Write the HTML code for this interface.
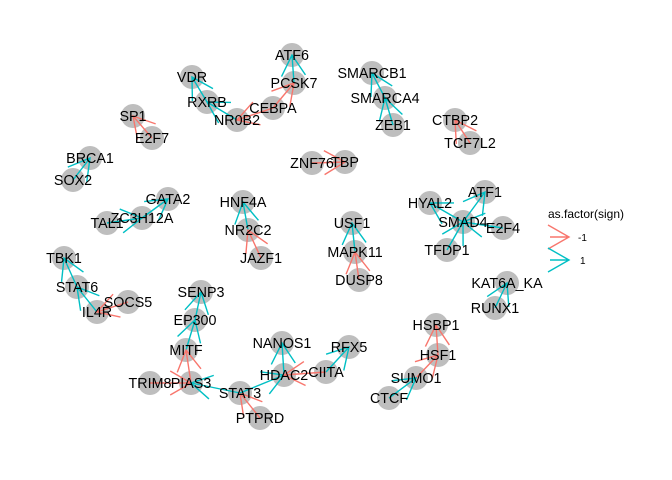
<!DOCTYPE html>
<html><head><meta charset="utf-8"><style>
html,body{margin:0;padding:0;background:#fff}
svg{display:block}
text{font-family:"Liberation Sans",sans-serif}
</style></head><body>
<svg id="chart" width="672" height="480" viewBox="0 0 672 480" xmlns="http://www.w3.org/2000/svg">
<rect width="672" height="480" fill="#fff"/>
<g id="edges"></g>
<g id="nodes"></g>
<g id="labels"></g>
<g>
<text x="548" y="218" font-size="12" fill="#000">as.factor(sign)</text>
<g stroke="#F8766D" stroke-width="1.4" fill="none">
<path d="M548,225 L569,237 L548,249 M550,237 L569,237"/></g>
<text x="578" y="241" font-size="10" fill="#000">-1</text>
<g stroke="#00BFC4" stroke-width="1.4" fill="none">
<path d="M548,248 L569,260 L548,272 M550,260 L569,260"/></g>
<text x="580" y="264" font-size="10" fill="#000">1</text>
</g>
</svg>
<script>
const nodeNames=["ATF6","PCSK7","VDR","RXRB","NR0B2","CEBPA","SP1","E2F7","BRCA1","SOX2","GATA2","ZC3H12A","TAL1","HNF4A","NR2C2","JAZF1","ZNF76","TBP","SMARCB1","SMARCA4","ZEB1","CTBP2","TCF7L2","ATF1","HYAL2","SMAD4","E2F4","TFDP1","USF1","MAPK11","DUSP8","KAT6A_KA","RUNX1","TBK1","STAT6","IL4R","SOCS5","SENP3","EP300","MITF","TRIM8","PIAS3","STAT3","PTPRD","NANOS1","HDAC2","CIITA","RFX5","HSBP1","HSF1","SUMO1","CTCF"];
const nodeX=[292,294,192,207,237,273,133,152,90,73,168,142,107,243,248,261,312,345,372,385,393,455,470,485,430,463,503,447,352,355,359,507,495,64,77,97,128,201,195,186,150,191,240,260,282,284,326,349,436,438,416,389];
const nodeY=[55,83,77,102,120,108,116,138,158,180,199,218,223,202,230,258,163,162,73,98,125,120,143,192,203,222,228,250,223,252,280,283,308,258,287,312,302,292,320,350,383,383,393,418,343,375,372,347,325,355,378,398];
const edgeFrom=["PCSK7","CEBPA","RXRB","NR0B2","CEBPA","E2F7","SOX2","ZC3H12A","TAL1","NR2C2","JAZF1","ZNF76","SMARCA4","ZEB1","TCF7L2","SMAD4","SMAD4","E2F4","TFDP1","MAPK11","DUSP8","RUNX1","STAT6","IL4R","SOCS5","EP300","MITF","PIAS3","TRIM8","STAT3","PTPRD","STAT3","HDAC2","CIITA","CIITA","HSF1","SUMO1","CTCF"];
const edgeTo=["ATF6","PCSK7","VDR","RXRB","NR0B2","SP1","BRCA1","GATA2","ZC3H12A","HNF4A","NR2C2","TBP","SMARCB1","SMARCA4","CTBP2","ATF1","HYAL2","SMAD4","SMAD4","USF1","MAPK11","KAT6A_KA","TBK1","STAT6","IL4R","SENP3","EP300","MITF","PIAS3","PIAS3","STAT3","HDAC2","NANOS1","HDAC2","RFX5","HSBP1","HSF1","SUMO1"];
const edgeSign=[1,-1,1,1,-1,-1,1,1,1,1,-1,-1,1,1,-1,1,1,1,1,1,-1,1,1,1,-1,1,1,-1,-1,1,-1,1,1,-1,1,-1,-1,1];

const NS="http://www.w3.org/2000/svg";
const px=n=>nodeX[nodeNames.indexOf(n)];
const py=n=>nodeY[nodeNames.indexOf(n)];
const eg=document.getElementById('edges'),ng=document.getElementById('nodes'),lg=document.getElementById('labels');
nodeNames.forEach((n,i)=>{
  const c=document.createElementNS(NS,'circle');
  c.setAttribute('cx',nodeX[i]);c.setAttribute('cy',nodeY[i]);c.setAttribute('r',12);c.setAttribute('fill','#BEBEBE');
  
  
  ng.appendChild(c);
  const t=document.createElementNS(NS,'text');
  t.setAttribute('x',nodeX[i]);t.setAttribute('y',nodeY[i]+5);t.setAttribute('text-anchor','middle');t.setAttribute('font-size','14.3');t.setAttribute('fill','#000');
  t.textContent=n;
  
  
  lg.appendChild(t);
});
edgeFrom.forEach((f,i)=>{
  const x1=px(f),y1=py(f),x2=px(edgeTo[i]),y2=py(edgeTo[i]);
  const col=edgeSign[i]<0?'#F8766D':'#00BFC4';
  const a=Math.atan2(y1-y2,x1-x2),L=24,s=Math.PI/6;
  const d=`M${x1},${y1} L${x2},${y2} M${x2+L*Math.cos(a+s)},${y2+L*Math.sin(a+s)} L${x2},${y2} L${x2+L*Math.cos(a-s)},${y2+L*Math.sin(a-s)}`;
  const p=document.createElementNS(NS,'path');
  p.setAttribute('d',d);p.setAttribute('stroke',col);p.setAttribute('stroke-width','1.4');p.setAttribute('fill','none');
  
  
  eg.appendChild(p);
});
document.getElementById('chart').insertBefore(ng,eg);
</script>
</body></html>
